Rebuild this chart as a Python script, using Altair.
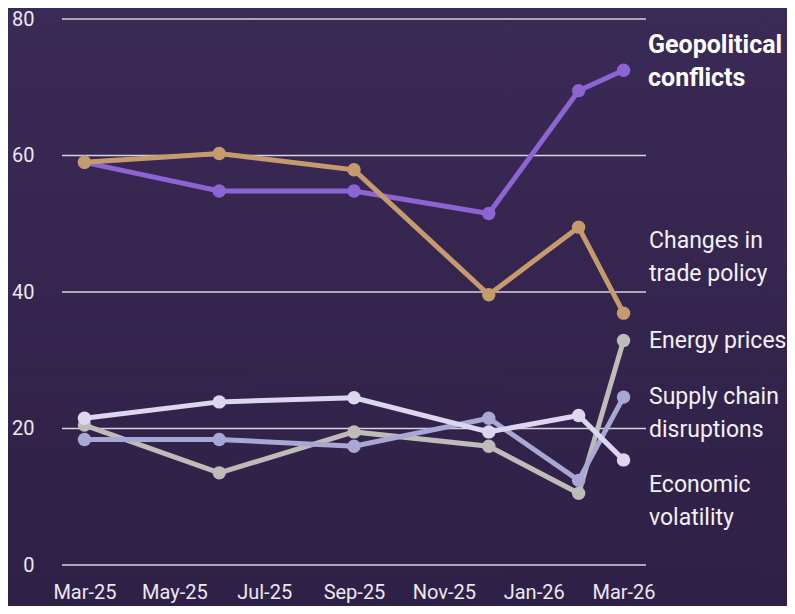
import json
import altair as alt
import pandas as pd

# ---- data ----
survey_months = ["Mar-25", "Jun-25", "Sep-25", "Dec-25", "Feb-26", "Mar-26"]
series_names = ["Energy prices", "Supply chain disruptions", "Economic volatility",
                "Geopolitical conflicts", "Changes in trade policy"]
energy = [20.5, 13.5, 19.5, 17.4, 10.5, 32.9]
supply = [18.4, 18.4, 17.4, 21.5, 12.4, 24.6]
econ = [21.5, 23.9, 24.5, 19.5, 21.9, 15.4]
geo = [59.0, 54.8, 54.8, 51.5, 69.5, 72.5]
trade = [59.0, 60.3, 57.9, 39.6, 49.5, 36.9]
series_colors = ["#bdbcb8", "#a9a7d3", "#dcd7ef", "#8c64d3", "#c59b6d"]

tick_labels = ["Mar-25", "May-25", "Jul-25", "Sep-25", "Nov-25", "Jan-26", "Mar-26"]
y_ticks = [0, 20, 40, 60, 80]

# end-of-line annotation texts and the level of their first line (data units)
label_texts = ["Geopolitical\nconflicts", "Changes in\ntrade policy", "Energy prices",
               "Supply chain\ndisruptions", "Economic\nvolatility"]
label_y = [76.2, 47.5, 32.8, 24.6, 11.7]
label_bold = [True, False, False, False, False]

MONTHS = {"Jan": 1, "Feb": 2, "Mar": 3, "Apr": 4, "May": 5, "Jun": 6, "Jul": 7,
          "Aug": 8, "Sep": 9, "Oct": 10, "Nov": 11, "Dec": 12}


def month_index(lbl):
    m, y = lbl.split("-")
    return (int(y) - 25) * 12 + MONTHS[m] - 3


values = [energy, supply, econ, geo, trade]
rows = []
for name, vals in zip(series_names, values):
    for m, v in zip(survey_months, vals):
        rows.append({"series": name, "month": month_index(m), "label": m, "value": v})
df = pd.DataFrame(rows)

lab_df = pd.DataFrame({"text": label_texts, "y": label_y, "bold": label_bold})
grid_df = pd.DataFrame({"value": y_ticks})

FONT = "Roboto"
W, H = 584, 546
x_vals = [month_index(t) for t in tick_labels]
label_expr = "{}[datum.value / 2]".format(json.dumps(tick_labels).replace('"', "'"))

x_scale = alt.Scale(domain=[-0.5, 12.5], nice=False, zero=False)
y_scale = alt.Scale(domain=[0, 80], nice=False)

x_enc = alt.X("month:Q", scale=x_scale,
              axis=alt.Axis(values=x_vals, labelExpr=label_expr, grid=False, domain=False,
                            ticks=False, labelPadding=17, labelFontSize=20, zindex=2,
                            labelColor="#ebe8f2", labelFont=FONT, title=None))
y_enc = alt.Y("value:Q", scale=y_scale,
              axis=alt.Axis(values=y_ticks, grid=False, domain=False, ticks=False,
                            labelPadding=28, labelFontSize=20, zindex=2,
                            labelColor="#ebe8f2", labelFont=FONT, title=None))
color_enc = alt.Color("series:N",
                      scale=alt.Scale(domain=series_names, range=series_colors),
                      legend=None)

bg = alt.Chart(alt.Data(values=[{}])).mark_rect(
    fill=alt.Gradient(gradient="linear",
                      stops=[alt.GradientStop(color="#3a2a56", offset=0),
                             alt.GradientStop(color="#2e1f45", offset=1)],
                      x1=0, x2=0, y1=0, y2=1)
).encode(x=alt.value(-60), x2=alt.value(800), y=alt.value(-20), y2=alt.value(640))

grid = alt.Chart(grid_df).mark_rule(color="#d6d2de", strokeWidth=1.6).encode(
    y=alt.Y("value:Q", scale=y_scale), x=alt.value(0), x2=alt.value(W))

base = alt.Chart(df)
lines = base.mark_line(strokeWidth=5).encode(
    x=x_enc, y=y_enc, color=color_enc,
    order=alt.Order("month:Q"))
points = base.mark_circle(size=180, opacity=1).encode(
    x="month:Q", y="value:Q", color=color_enc)

lab_base = alt.Chart(lab_df)
labels_bold = lab_base.transform_filter("datum.bold").mark_text(
    align="left", baseline="middle", lineBreak="\n", lineHeight=33, fontSize=25,
    fontWeight="bold", font=FONT, color="#ffffff"
).encode(x=alt.value(586), y=alt.Y("y:Q"), text="text:N")
labels_norm = lab_base.transform_filter("!datum.bold").mark_text(
    align="left", baseline="middle", lineBreak="\n", lineHeight=33, fontSize=23,
    font=FONT, color="#f2f0f6"
).encode(x=alt.value(587), y=alt.Y("y:Q"), text="text:N")

chart = alt.layer(bg, grid, lines, points, labels_bold, labels_norm).properties(
    width=W, height=H,
    autosize=alt.AutoSizeParams(type="none"),
    padding={"left": 54, "top": 11, "right": 141, "bottom": 41},
    background="#342550",
).configure_view(stroke=None)

chart.save("out.html", embed_options={"renderer": "svg", "actions": False})
